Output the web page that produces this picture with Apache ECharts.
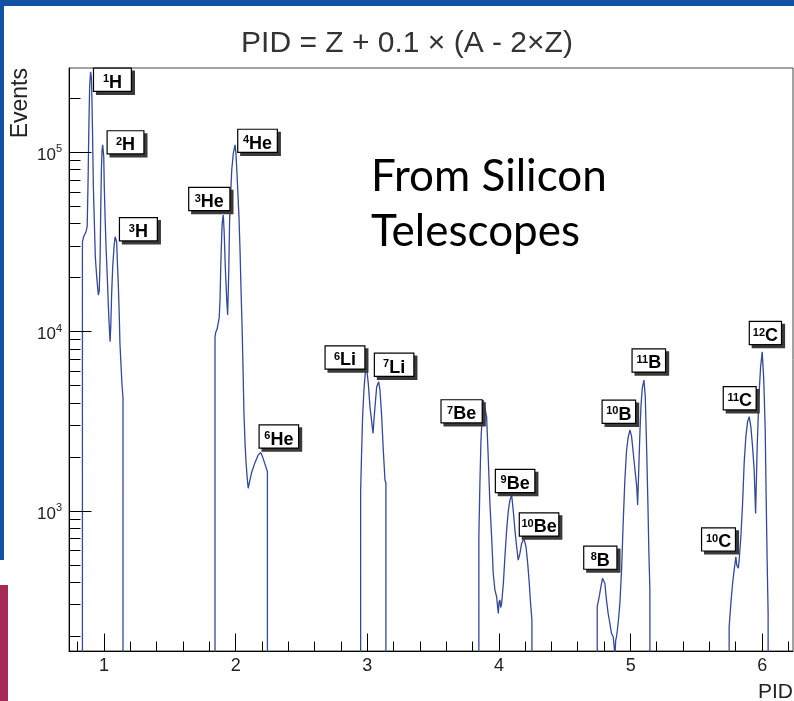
<!DOCTYPE html>
<html>
<head>
<meta charset="utf-8">
<script src="https://cdn.jsdelivr.net/npm/echarts@6/dist/echarts.min.js"></script>
<style>
  html, body { margin: 0; padding: 0; background: #ffffff; }
  #chart { width: 794px; height: 701px; }
</style>
</head>
<body>
<div id="chart"></div>
<script>
// PID spectrum from the silicon telescopes, one pair of arrays per element.
// A count of 1 marks the empty bins at the edges of a group (below the axis floor).
const hydrogenPid = [0.836, 0.836, 0.845, 0.855, 0.863, 0.872, 0.879, 0.885, 0.891, 0.898, 0.904, 0.908, 0.912,
  0.919, 0.926, 0.934, 0.945, 0.957, 0.964, 0.970, 0.975, 0.980, 0.985, 0.990, 0.998, 1.002, 1.008, 1.015,
  1.025, 1.033, 1.040, 1.046, 1.051, 1.058, 1.066, 1.076, 1.084, 1.089, 1.096, 1.101, 1.109, 1.116, 1.121,
  1.129, 1.137, 1.144, 1.144];
const hydrogenCounts = [1, 31700, 33800, 35000, 36100, 38500, 70000, 140000, 235000, 281000, 262000, 200000, 139000,
  64000, 42000, 26000, 20000, 16000, 17000, 25000, 47600, 80000, 103000, 110000, 94000, 64000, 44000, 30000,
  20000, 13800, 10600, 8800, 10600, 16300, 23000, 29700, 33800, 34500, 31700, 25000, 17800, 12100, 8600,
  6500, 5000, 4300, 1];

const heliumPid = [1.843, 1.843, 1.850, 1.860, 1.868, 1.875, 1.881, 1.888, 1.896, 1.900, 1.906, 1.913, 1.921,
  1.932, 1.939, 1.947, 1.954, 1.962, 1.970, 1.982, 1.995, 2.002, 2.010, 2.018, 2.025, 2.033, 2.040, 2.048,
  2.055, 2.063, 2.070, 2.078, 2.087, 2.095, 2.105, 2.120, 2.145, 2.170, 2.190, 2.205, 2.220, 2.241, 2.241];
const heliumCounts = [1, 9400, 10000, 10400, 10600, 12000, 15000, 25000, 38400, 42000, 44700, 35300, 23000,
  15000, 12400, 21100, 41900, 59000, 79600, 98600, 110000, 98600, 76000, 56500, 43700, 28500, 17800, 11000,
  6600, 3500, 2500, 1900, 1550, 1340, 1450, 1630, 1850, 2050, 2120, 2000, 1850, 1660, 1];

const lithiumPid = [2.949, 2.949, 2.957, 2.964, 2.974, 2.984, 2.995, 3.007, 3.020, 3.033, 3.043, 3.050, 3.058,
  3.071, 3.086, 3.096, 3.109, 3.121, 3.134, 3.141, 3.141];
const lithiumCounts = [1, 1280, 2190, 3360, 4720, 5860, 6240, 5150, 3810, 3150, 2710, 3200, 3810,
  4930, 5260, 4720, 3360, 2190, 1490, 1430, 1];

const berylliumPid = [3.847, 3.847, 3.855, 3.863, 3.872, 3.880, 3.893, 3.906, 3.918, 3.931, 3.944, 3.956, 3.969,
  3.982, 3.990, 3.995, 4.000, 4.007, 4.013, 4.020, 4.033, 4.045, 4.058, 4.071, 4.083, 4.096, 4.108, 4.121,
  4.134, 4.146, 4.159, 4.172, 4.189, 4.205, 4.218, 4.230, 4.240, 4.250, 4.250];
const berylliumCounts = [1, 720, 1430, 2490, 3360, 4160, 4250, 3360, 2010, 1100, 720, 450, 363,
  333, 290, 269, 310, 320, 290, 305, 395, 556, 783, 1010, 1150, 1230, 1010, 783,
  633, 533, 581, 660, 704, 633, 511, 395, 305, 247, 1];

const boronPid = [4.746, 4.746, 4.761, 4.774, 4.786, 4.790, 4.804, 4.816, 4.829, 4.842, 4.854, 4.867, 4.875,
  4.880, 4.886, 4.893, 4.905, 4.918, 4.931, 4.943, 4.956, 4.969, 4.982, 4.995, 5.007, 5.020, 5.033, 5.046,
  5.053, 5.063, 5.071, 5.078, 5.088, 5.101, 5.111, 5.121, 5.131, 5.138, 5.146, 5.148];
const boronCounts = [1, 293, 333, 378, 422, 431, 395, 320, 269, 237, 208, 200, 175,
  150, 190, 200, 237, 305, 469, 854, 1490, 2190, 2600, 2830, 2600, 2100, 1690, 1370,
  1080, 1850, 2830, 3810, 4830, 5370, 4340, 2280, 1100, 607, 363, 1];

const carbonPid = [5.748, 5.748, 5.761, 5.774, 5.786, 5.799, 5.806, 5.812, 5.818, 5.824, 5.837, 5.850, 5.862,
  5.875, 5.888, 5.900, 5.913, 5.926, 5.938, 5.949, 5.961, 5.974, 5.987, 5.999, 6.011, 6.022, 6.029, 6.037,
  6.044, 6.046];
const carbonCounts = [1, 226, 305, 395, 469, 556, 500, 511, 480, 533, 720, 1100, 1850,
  2600, 3150, 3360, 2950, 2280, 1690, 970, 2280, 4340, 6370, 7730, 5370, 2830, 1200, 511,
  269, 1];

// Isotope tags, each attached to its peak.
const tagMass = ['1', '2', '3', '3', '4', '6', '6', '7', '7', '9', '10', '8', '10', '11', '10', '11', '12'];
const tagSymbol = ['H', 'H', 'H', 'He', 'He', 'He', 'Li', 'Li', 'Be', 'Be', 'Be', 'B', 'B', 'B', 'C', 'C', 'C'];
const tagPeakPid = [0.898, 0.990, 1.089, 1.906, 1.995, 2.190, 2.995, 3.086, 3.893, 4.096, 4.189, 4.790, 4.995,
  5.101, 5.799, 5.900, 5.999];
const tagPeakCount = [281000, 110000, 34500, 44700, 110000, 2120, 6240, 5260, 4250, 1230, 704, 431, 2830,
  5370, 556, 3360, 7730];

// Axis ticks.
const pidMajorTicks = [1, 2, 3, 4, 5, 6];
const pidMinorTicks = [0.8, 1.2, 1.4, 1.6, 1.8, 2.2, 2.4, 2.6, 2.8, 3.2, 3.4, 3.6, 3.8, 4.2, 4.4, 4.6, 4.8,
  5.2, 5.4, 5.6, 5.8, 6.2];
const eventMajorTicks = [1000, 10000, 100000];
const eventMinorTicks = [200, 300, 400, 500, 600, 700, 800, 900, 2000, 3000, 4000, 5000, 6000, 7000, 8000, 9000,
  20000, 30000, 40000, 50000, 60000, 70000, 80000, 90000, 200000];

// Axis ranges.
const pidMin = 0.734, pidMax = 6.233;
const eventMin = 166, eventMax = 295000;

// Tag box layout: offset of the box's top-left corner from the peak (px) and box width (px).
const tagOffset = [[3.5, -3], [5, -13.5], [4.3, -17], [-34, -27], [3.3, -15], [-1, -27], [-41, -22], [-3.7, -28],
  [-43.3, 2], [-15.7, -25], [-4, -25], [-18.7, -30], [-27.3, -29.3], [-11.3, -30.7], [-33.7, -28.4],
  [-25.3, -29.4], [-12.3, -29.7]];
const tagWidth = [36.7, 35.6, 36.7, 40, 38.4, 38.3, 38.6, 38.3, 40, 38.3, 38.3, 32, 32.3, 32.3, 32.7, 31.7, 31];
const tagShadowShift = 3;

const groups = [
  [hydrogenPid, hydrogenCounts], [heliumPid, heliumCounts], [lithiumPid, lithiumCounts],
  [berylliumPid, berylliumCounts], [boronPid, boronCounts], [carbonPid, carbonCounts]
];
const spectrum = [];
groups.forEach(([pids, counts]) => pids.forEach((p, i) => spectrum.push([p, counts[i]])));

const xTickData = pidMajorTicks.map(v => [v, eventMin, 1]).concat(pidMinorTicks.map(v => [v, eventMin, 0]));
const yTickData = eventMajorTicks.map(v => [pidMin, v, 1]).concat(eventMinorTicks.map(v => [pidMin, v, 0]));

const crisp = v => Math.round(v - 0.5) + 0.5;
const FONT = '"Liberation Sans", Arial, sans-serif';

// One tag layer: the white framed box, or the dark box drawn underneath as its drop shadow.
function tagLayer(name, isShadow, z) {
  const ink = isShadow ? 'rgba(0,0,0,0)' : '#000';
  const shift = isShadow ? tagShadowShift : 0;
  return {
    name: name,
    type: 'scatter',
    symbol: 'rect',
    symbolSize: 1,
    silent: true,
    z: z,
    itemStyle: { color: 'rgba(0,0,0,0)', opacity: 1 },
    data: tagPeakPid.map((p, i) => ({
      value: [p, tagPeakCount[i]],
      label: {
        position: [tagOffset[i][0] + tagWidth[i] / 2 + 0.5 + shift, tagOffset[i][1] + 0.5 + shift],
        width: tagWidth[i] - 6
      }
    })),
    label: {
      show: true,
      opacity: 1,
      align: 'center',
      verticalAlign: 'top',
      color: ink,
      backgroundColor: isShadow ? '#3a3a3a' : '#ffffff',
      borderColor: isShadow ? '#3a3a3a' : '#000',
      borderWidth: 1.2,
      padding: [4, 3, 0, 3],
      formatter: params => '{m|' + tagMass[params.dataIndex] + '}{s|' + tagSymbol[params.dataIndex] + '}',
      rich: {
        m: { fontSize: 11, lineHeight: 11, fontWeight: 'bold', verticalAlign: 'top', padding: [1, 0, 0, 0],
             color: ink, fontFamily: FONT },
        s: { fontSize: 18, lineHeight: 18, fontWeight: 'bold', padding: [2, 0, 0, 0], color: ink, fontFamily: FONT }
      }
    },
    labelLayout: { hideOverlap: false }
  };
}

const chart = echarts.init(document.getElementById('chart'), null, { renderer: 'canvas' });

chart.setOption({
  animation: false,
  backgroundColor: '#ffffff',
  grid: {
    left: 69, right: 1, top: 68, bottom: 50,
    containLabel: false, outerBoundsMode: 'none',
    show: true, borderColor: '#444', borderWidth: 1, backgroundColor: 'transparent'
  },
  xAxis: {
    type: 'value', min: pidMin, max: pidMax,
    axisLine: { show: true, onZero: false, lineStyle: { color: '#000', width: 1 } },
    axisTick: { show: false },
    minorTick: { show: false },
    splitLine: { show: false },
    axisLabel: {
      show: true, margin: 6, fontSize: 18, lineHeight: 18, color: '#222', fontFamily: FONT,
      showMinLabel: false, showMaxLabel: false,
      formatter: v => (Math.abs(v - Math.round(v)) < 1e-9 ? String(Math.round(v)) : '')
    }
  },
  yAxis: {
    type: 'log', logBase: 10, min: eventMin, max: eventMax,
    axisLine: { show: true, lineStyle: { color: '#000', width: 1 } },
    axisTick: { show: false },
    minorTick: { show: false },
    splitLine: { show: false },
    axisLabel: {
      show: true, margin: 7, color: '#222', fontFamily: FONT,
      showMinLabel: false, showMaxLabel: false,
      formatter: v => {
        const e = Math.round(Math.log10(v));
        if (Math.abs(Math.log10(v) - e) > 1e-6) return '';
        return '{b|10}{s|' + e + '}';
      },
      rich: {
        b: { fontSize: 17, lineHeight: 17, padding: [6, 0, 0, 0], color: '#222', fontFamily: FONT },
        s: { fontSize: 11, lineHeight: 11, verticalAlign: 'top', color: '#222', fontFamily: FONT }
      }
    }
  },
  series: [
    {
      name: 'Events',
      type: 'line',
      data: spectrum,
      showSymbol: false,
      symbol: 'none',
      clip: true,
      z: 3,
      lineStyle: { color: '#34489c', width: 1.3 }
    },
    {
      name: 'pidTicks',
      type: 'custom',
      coordinateSystem: 'cartesian2d',
      silent: true,
      z: 4,
      data: xTickData,
      encode: { x: 0, y: 1 },
      renderItem: (params, api) => {
        const p = api.coord([api.value(0), api.value(1)]);
        const len = api.value(2) ? 17.5 : 9.5;
        const x = crisp(p[0]);
        return { type: 'line', shape: { x1: x, y1: p[1], x2: x, y2: p[1] - len }, style: { stroke: '#000', lineWidth: 1 } };
      }
    },
    {
      name: 'eventTicks',
      type: 'custom',
      coordinateSystem: 'cartesian2d',
      silent: true,
      z: 4,
      data: yTickData,
      encode: { x: 0, y: 1 },
      renderItem: (params, api) => {
        const p = api.coord([api.value(0), api.value(1)]);
        const len = api.value(2) ? 22.5 : 11.5;
        const y = crisp(p[1]);
        return { type: 'line', shape: { x1: p[0], y1: y, x2: p[0] + len, y2: y }, style: { stroke: '#000', lineWidth: 1 } };
      }
    },
    tagLayer('isotopeShadow', true, 5),
    tagLayer('isotopes', false, 6)
  ],
  graphic: [
    // slide border strips
    { type: 'rect', z: -10, shape: { x: 0, y: 0, width: 794, height: 6 }, style: { fill: '#1052a5' } },
    { type: 'rect', z: -10, shape: { x: 0, y: 0, width: 4, height: 560 }, style: { fill: '#1052a5' } },
    { type: 'rect', z: -10, shape: { x: 0, y: 585, width: 8, height: 116 }, style: { fill: '#a62a55' } },
    {
      type: 'text', x: 407, y: 44, z: 10,
      style: {
        text: 'PID = Z + 0.1 \u00d7 (A - 2\u00d7Z)', fill: '#333',
        font: '30px ' + FONT, textAlign: 'center', textVerticalAlign: 'middle'
      }
    },
    {
      type: 'text', x: 21, y: 68, rotation: Math.PI / 2, z: 10,
      style: {
        text: 'Events', fill: '#222',
        font: '23px ' + FONT, textAlign: 'right', textVerticalAlign: 'middle'
      }
    },
    {
      type: 'text', x: 793, y: 692, z: 10,
      style: {
        text: 'PID', fill: '#222',
        font: '21px ' + FONT, textAlign: 'right', textVerticalAlign: 'middle'
      }
    },
    {
      type: 'text', x: 371, y: 177, z: 10,
      style: { text: 'From Silicon', fill: '#000', font: '44px Lato, "Open Sans", sans-serif', textAlign: 'left', textVerticalAlign: 'middle' }
    },
    {
      type: 'text', x: 371, y: 232, z: 10,
      style: { text: 'Telescopes', fill: '#000', font: '44px Lato, "Open Sans", sans-serif', textAlign: 'left', textVerticalAlign: 'middle' }
    }
  ]
});
</script>
</body>
</html>
